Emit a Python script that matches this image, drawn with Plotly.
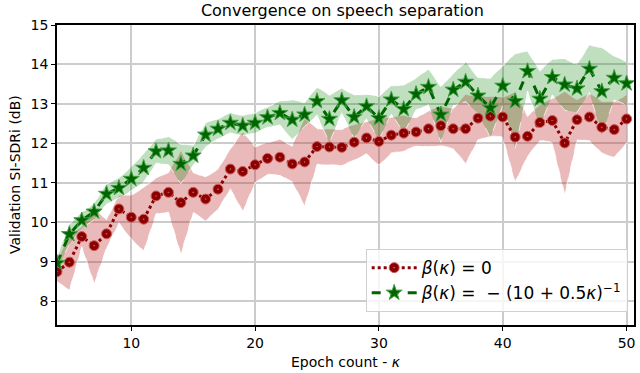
import plotly.graph_objects as go

epochs = list(range(4, 51))

red_mean = [8.75, 8.99, 9.64, 9.41, 9.71, 10.34, 10.13, 10.08, 10.67, 10.76,
            10.50, 10.76, 10.59, 10.84, 11.35, 11.29, 11.46, 11.62, 11.65, 11.48,
            11.53, 11.92, 11.91, 11.90, 12.03, 12.14, 12.05, 12.21, 12.26, 12.29,
            12.37, 12.45, 12.37, 12.37, 12.64, 12.69, 12.67, 12.16, 12.18, 12.53,
            12.58, 12.01, 12.60, 12.67, 12.41, 12.35, 12.62]
red_std = [0.25, 0.70, 0.25, 0.95, 0.35, 0.35, 0.55, 0.80, 0.45, 0.50,
           1.30, 0.50, 0.55, 0.50, 0.50, 1.00, 0.45, 0.40, 0.45, 0.45,
           1.10, 0.45, 0.45, 0.45, 0.45, 0.40, 0.60, 0.45, 0.45, 0.35,
           0.45, 0.50, 0.50, 0.87, 0.55, 0.50, 0.50, 1.13, 0.50, 0.45,
           0.55, 1.30, 0.50, 0.60, 0.65, 0.70, 0.60]

green_mean = [8.97, 9.70, 10.05, 10.27, 10.72, 10.87, 11.10, 11.38, 11.80, 11.82,
              11.48, 11.69, 12.22, 12.37, 12.52, 12.45, 12.52, 12.66, 12.77, 12.60,
              12.73, 13.07, 12.62, 13.09, 12.67, 12.94, 12.64, 13.11, 12.87, 13.25,
              13.43, 12.73, 13.36, 13.56, 13.21, 12.90, 13.46, 13.07, 13.83, 13.13,
              13.68, 13.49, 13.39, 13.89, 13.32, 13.66, 13.52]
green_std = [0.15, 0.25, 0.20, 0.20, 0.25, 0.25, 0.30, 0.35, 0.30, 0.35,
             0.50, 0.25, 0.30, 0.25, 0.25, 0.25, 0.25, 0.25, 0.30, 0.50,
             0.30, 0.35, 0.60, 0.30, 0.55, 0.30, 0.55, 0.35, 0.60, 0.40,
             0.45, 0.70, 0.40, 0.50, 0.45, 0.75, 0.50, 1.20, 0.50, 0.70,
             0.45, 0.65, 0.60, 0.60, 1.10, 0.55, 0.55]

x_ticks = [10, 20, 30, 40, 50]
y_ticks = [8, 9, 10, 11, 12, 13, 14, 15]

title_text = "Convergence on speech separation"
x_title = "Epoch count - <i>κ</i>"
y_title = "Validation SI-SDRi (dB)"
red_label = "<i>β</i>(<i>κ</i>) = 0"
green_label = "<i>β</i>(<i>κ</i>) =  − (10 + 0.5<i>κ</i>)<sup>−1</sup>"

red_up = [m + s for m, s in zip(red_mean, red_std)]
red_lo = [m - s for m, s in zip(red_mean, red_std)]
green_up = [m + s for m, s in zip(green_mean, green_std)]
green_lo = [m - s for m, s in zip(green_mean, green_std)]

RED = "#8b0000"
GREEN = "#006400"

fig = go.Figure()
edge = dict(color="rgba(255,255,255,0.9)", width=0.8, dash="dash")
fig.add_trace(go.Scatter(x=epochs, y=red_up, mode="lines", line=edge,
                         showlegend=False, hoverinfo="skip"))
fig.add_trace(go.Scatter(x=epochs, y=red_lo, mode="lines", line=edge, fill="tonexty",
                         fillcolor="rgba(190,40,40,0.32)", showlegend=False, hoverinfo="skip"))
fig.add_trace(go.Scatter(x=epochs, y=green_up, mode="lines", line=edge,
                         showlegend=False, hoverinfo="skip"))
fig.add_trace(go.Scatter(x=epochs, y=green_lo, mode="lines", line=edge, fill="tonexty",
                         fillcolor="rgba(0,128,0,0.25)", showlegend=False, hoverinfo="skip"))

fig.add_trace(go.Scatter(x=epochs, y=red_mean, mode="lines+markers", name=red_label,
                         line=dict(color=RED, width=3, dash="dot"),
                         marker=dict(symbol="circle-dot", size=10, color=RED,
                                     line=dict(color="#d06060", width=1))))
fig.add_trace(go.Scatter(x=epochs, y=green_mean, mode="lines+markers", name=green_label,
                         line=dict(color=GREEN, width=3, dash="dash"),
                         marker=dict(symbol="star", size=12, color=GREEN,
                                     line=dict(color="#40a040", width=1))))

fig.update_layout(
    width=640, height=373,
    margin=dict(l=57, r=6, t=25, b=48),
    paper_bgcolor="white", plot_bgcolor="white",
    font=dict(family="DejaVu Sans", size=14, color="black"),
    title=dict(text=title_text, x=0.535, xanchor="center",
               y=0.988, yanchor="top", font=dict(size=16)),
    legend=dict(x=0.535, y=0.043, xanchor="left", yanchor="bottom", traceorder="normal",
                bgcolor="rgba(255,255,255,0.8)", bordercolor="#d0d0d0", borderwidth=1,
                font=dict(size=17, family="DejaVu Sans"), itemwidth=45,
                tracegroupgap=2),
    showlegend=True,
    annotations=[
        dict(text=x_title, xref="paper", yref="paper", x=0.5, y=0, yshift=-37,
             showarrow=False, xanchor="center", yanchor="middle", font=dict(size=14)),
        dict(text=y_title, xref="paper", yref="paper", x=0, y=0.5, xshift=-42,
             showarrow=False, xanchor="center", yanchor="middle", textangle=-90,
             font=dict(size=14)),
    ],
)
fig.update_xaxes(range=[4, 50.6], tickvals=x_ticks, showgrid=True, gridcolor="#cccccc",
                 gridwidth=1.5, showline=True, linecolor="black", linewidth=1.5, mirror=True,
                 ticks="outside", ticklen=4, tickcolor="black", zeroline=False,
                 automargin=False, tickfont=dict(size=14))
fig.update_yaxes(range=[7.4, 15], tickvals=y_ticks, showgrid=True, gridcolor="#cccccc",
                 gridwidth=1.5, showline=True, linecolor="black", linewidth=1.5, mirror=True,
                 ticks="outside", ticklen=4, tickcolor="black", zeroline=False,
                 automargin=False, tickfont=dict(size=14))

fig.write_html("out.html", config={"displayModeBar": False},
               post_script="document.body.style.margin='0';document.body.style.overflow='hidden';")
